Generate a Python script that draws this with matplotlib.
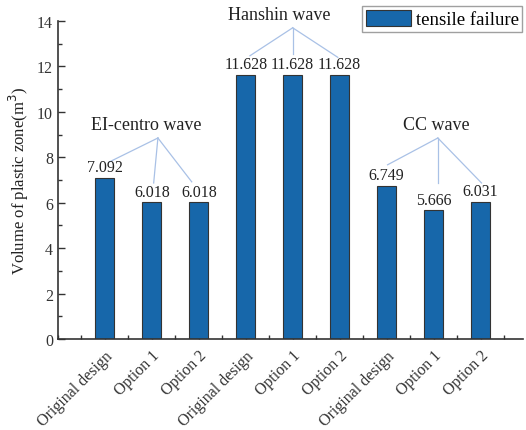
import matplotlib
matplotlib.use("Agg")
import matplotlib.pyplot as plt
from matplotlib.ticker import MultipleLocator
import numpy as np

plt.rcParams['font.family'] = ['Liberation Serif', 'DejaVu Serif']

categories = ["Original design", "Option 1", "Option 2",
              "Original design", "Option 1", "Option 2",
              "Original design", "Option 1", "Option 2"]
values = [7.092, 6.018, 6.018, 11.628, 11.628, 11.628, 6.749, 5.666, 6.031]
value_labels = ["7.092", "6.018", "6.018", "11.628", "11.628", "11.628", "6.749", "5.666", "6.031"]
groups = ["EI-centro wave", "Hanshin wave", "CC wave"]
# group annotations: text position, apex, line ends (data coords)
group_text = [(0.89, 9.43), (3.72, 14.27), (7.06, 9.43)]
group_apex = [(1.13, 8.85), (4.0, 13.7), (7.09, 8.85)]
group_ends = [[(0.1, 7.8), (1.04, 6.87), (1.85, 6.92)],
              [(3.09, 12.47), (4.0, 12.56), (4.96, 12.4)],
              [(6.02, 7.67), (7.09, 6.87), (8.02, 6.87)]]

bar_color = "#1767aa"
line_color = "#a9c1e6"

fig = plt.figure(figsize=(5.26, 4.31), dpi=100)
ax = fig.add_axes([0.110, 0.211, 0.884, 0.738])

x = np.arange(len(values))
ax.bar(x, values, width=0.4, color=bar_color, edgecolor="#333333", linewidth=0.8,
       label="tensile failure", zorder=2)

for xi, v, lab in zip(x, values, value_labels):
    ax.text(xi, v + 0.12, lab, ha="center", va="bottom", fontsize=11.5, color="#222222")

for name, tp, ap, ends in zip(groups, group_text, group_apex, group_ends):
    ax.text(tp[0], tp[1], name, ha="center", va="center", fontsize=13,
            color="#222222", clip_on=False)
    for e in ends:
        ax.plot([ap[0], e[0]], [ap[1], e[1]], color=line_color, lw=0.9, clip_on=False)

ax.set_xlim(-1, 8.9)
ax.set_ylim(0, 14)
ax.set_xticks(x)
ax.set_xticklabels(categories, rotation=45, ha="right", rotation_mode="anchor",
                   fontsize=11.5)
ax.xaxis.set_minor_locator(MultipleLocator(0.5))
ax.yaxis.set_major_locator(MultipleLocator(2))
ax.yaxis.set_minor_locator(MultipleLocator(1))
ax.tick_params(axis="both", which="major", direction="in", length=5, width=1,
               labelsize=11.5, colors="#333333", labelcolor="#333333")
ax.tick_params(axis="both", which="minor", direction="in", length=3, width=1,
               colors="#333333")
ax.tick_params(axis="x", pad=6)
ax.set_ylabel("Volume of plastic zone(m$^3$)", fontsize=12, color="#222222")
for s in ["top", "right"]:
    ax.spines[s].set_visible(False)
for s in ["left", "bottom"]:
    ax.spines[s].set_color("#333333")
    ax.spines[s].set_linewidth(1.2)

leg = ax.legend(loc="upper right", bbox_to_anchor=(0.993, 0.984),
                bbox_transform=fig.transFigure, fontsize=13.5, frameon=True,
                fancybox=False, edgecolor="#888888", handlelength=2.4,
                handleheight=1.0, borderpad=0.2, handletextpad=0.25,
                borderaxespad=0)
leg.get_frame().set_linewidth(1.0)

fig.savefig("out.png", dpi=100)
